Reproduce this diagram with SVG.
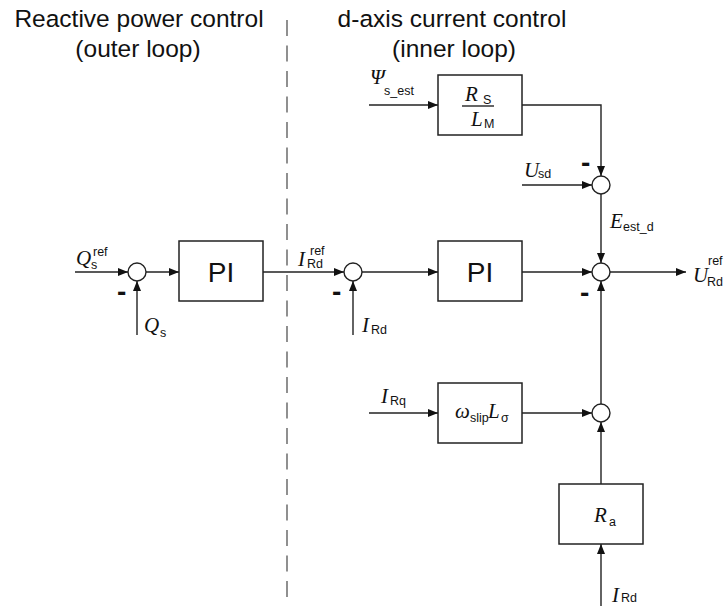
<svg xmlns="http://www.w3.org/2000/svg" width="727" height="606" viewBox="0 0 727 606">
<style>
.h{font-family:"Liberation Sans",Arial,sans-serif;font-size:24.5px;fill:#111;text-anchor:middle}
.v{font-family:"Liberation Serif","Times New Roman",serif;font-style:italic;font-size:21px;fill:#111}
.s{font-family:"Liberation Sans",Arial,sans-serif;font-size:12.5px;fill:#111}
.pi{font-family:"Liberation Sans",Arial,sans-serif;font-size:28px;fill:#111;text-anchor:middle}
.m{font-family:"Liberation Sans",Arial,sans-serif;font-size:28px;font-weight:bold;fill:#111}
.box{fill:#fff;stroke:#222;stroke-width:1.5}
.sum{fill:#fff;stroke:#222;stroke-width:1.4}
.c{fill:none;stroke:#222;stroke-width:1.4}
.d{fill:none;stroke:#555;stroke-width:1.3;stroke-dasharray:16 9.5}
</style>
<defs>
<marker id="a" viewBox="0 0 10 8" refX="10" refY="4" markerWidth="10" markerHeight="8" orient="auto" markerUnits="userSpaceOnUse"><path d="M0,0 L10,4 L0,8 z" fill="#111"/></marker>
</defs>

<g id="headers">
<text class="h" x="139" y="27">Reactive power control</text>
<text class="h" x="138" y="57">(outer loop)</text>
<text class="h" x="452" y="27">d-axis current control</text>
<text class="h" x="454" y="57">(inner loop)</text>
</g>

<line id="divider" class="d" x1="287" y1="20" x2="287" y2="606"/>

<g id="connectors">
<path class="c" d="M75,272 H128" marker-end="url(#a)"/>
<path class="c" d="M146,272 H179" marker-end="url(#a)"/>
<path class="c" d="M137,335 V281" marker-end="url(#a)"/>
<path class="c" d="M263,272 H344" marker-end="url(#a)"/>
<path class="c" d="M353,335 V281" marker-end="url(#a)"/>
<path class="c" d="M362,272 H438" marker-end="url(#a)"/>
<path class="c" d="M522,272 H592" marker-end="url(#a)"/>
<path class="c" d="M610,272 H686" marker-end="url(#a)"/>
<path class="c" d="M369,105 H438" marker-end="url(#a)"/>
<path class="c" d="M522,105 H601 V176" marker-end="url(#a)"/>
<path class="c" d="M522,185 H592" marker-end="url(#a)"/>
<path class="c" d="M601,194 V263" marker-end="url(#a)"/>
<path class="c" d="M369,413 H438" marker-end="url(#a)"/>
<path class="c" d="M522,413 H592" marker-end="url(#a)"/>
<path class="c" d="M601,404 V281" marker-end="url(#a)"/>
<path class="c" d="M601,484 V422" marker-end="url(#a)"/>
<path class="c" d="M601,606 V544" marker-end="url(#a)"/>
</g>

<g id="sum1"><circle class="sum" cx="137" cy="272" r="9"/><text class="m" x="117" y="301">-</text></g>
<g id="pi1"><rect class="box" x="179" y="241" width="84" height="60"/><text class="pi" x="221" y="282">PI</text></g>
<g id="sum2"><circle class="sum" cx="353" cy="272" r="9"/><text class="m" x="332" y="301">-</text></g>
<g id="sum3"><circle class="sum" cx="601" cy="272" r="9"/><text class="m" x="580" y="302">-</text></g>
<g id="pi2"><rect class="box" x="438" y="241" width="84" height="60"/><text class="pi" x="480" y="282">PI</text></g>
<g id="sum4"><circle class="sum" cx="601" cy="185" r="9"/><text class="m" x="581" y="172">-</text></g>
<g id="sum5"><circle class="sum" cx="601" cy="413" r="9"/></g>
<g id="rsl"><rect class="box" x="438" y="75" width="84" height="60"/>
<text class="v" x="465" y="101">R</text><text class="s" x="483" y="104">S</text>
<line x1="462" y1="106" x2="494" y2="106" stroke="#111" stroke-width="1.3"/>
<text class="v" x="471" y="126">L</text><text class="s" x="484" y="128">M</text></g>
<g id="wl"><rect class="box" x="438" y="383" width="84" height="60"/>
<text class="v" x="455" y="418">ω</text><text class="s" x="470" y="422">slip</text><text class="v" x="488" y="418">L</text><text class="s" x="501" y="422">σ</text></g>
<g id="ra"><rect class="box" x="559" y="484" width="84" height="60"/>
<text class="v" x="594" y="522">R</text><text class="s" x="609" y="526">a</text></g>

<g id="labels">
<text class="v" x="76" y="265">Q</text><text class="s" x="91" y="269">s</text><text class="s" x="93" y="256">ref</text>
<text class="v" x="144" y="332">Q</text><text class="s" x="160" y="337">s</text>
<text class="v" x="298" y="266">I</text><text class="s" x="307" y="268">Rd</text><text class="s" x="310" y="255">ref</text>
<text class="v" x="362" y="332">I</text><text class="s" x="371" y="334">Rd</text>
<text class="v" x="693" y="282">U</text><text class="s" x="707" y="286">Rd</text><text class="s" x="708" y="265">ref</text>
<text class="v" x="610" y="228">E</text><text class="s" x="623" y="231">est_d</text>
<text class="v" x="370" y="84">Ψ</text><text class="s" x="384" y="95">s_est</text>
<text class="v" x="524" y="177">U</text><text class="s" x="538" y="178">sd</text>
<text class="v" x="381" y="403">I</text><text class="s" x="390" y="405">Rq</text>
<text class="v" x="612" y="602">I</text><text class="s" x="621" y="602">Rd</text>
</g>
</svg>
